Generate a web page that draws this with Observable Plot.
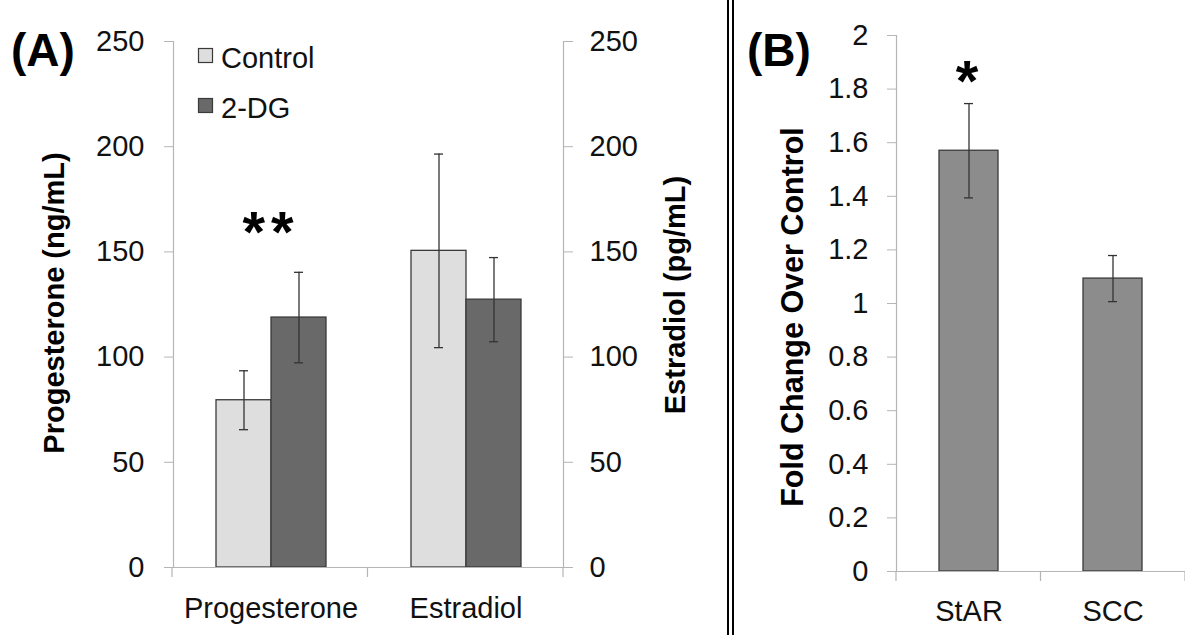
<!DOCTYPE html>
<html>
<head>
<meta charset="utf-8">
<script src="https://cdn.jsdelivr.net/npm/d3@7"></script>
<script src="https://cdn.jsdelivr.net/npm/@observablehq/plot@0.6"></script>
<style>
  html, body { margin: 0; padding: 0; background: #fff; }
  #wrap { position: relative; width: 1185px; height: 635px; overflow: hidden; background: #fff; }
  #wrap > svg { position: absolute; top: 0; }
</style>
</head>
<body>
<div id="wrap"></div>
<script>
// ---------------- data ----------------
const hormones = ["Progesterone", "Estradiol"];
const treatments = ["Control", "2-DG"];
const controlMean = [79.5, 150.5];
const controlErr = [14, 46];
const dgMean = [118.8, 127.3];
const dgErr = [21.5, 20];
const sigA = [{hormone: "Progesterone", label: "**", y: 159}];
const yTicksA = [0, 50, 100, 150, 200, 250];

const genes = ["StAR", "SCC"];
const foldMean = [1.57, 1.093];
const foldErr = [0.176, 0.086];
const sigB = [{gene: "StAR", label: "*", y: 1.825}];
const yTicksB = [0, 0.2, 0.4, 0.6, 0.8, 1, 1.2, 1.4, 1.6, 1.8, 2];

// ---------------- styling ----------------
const FONT = "'Liberation Sans', Arial, Helvetica, sans-serif";
const AX = "#b5b5b5";
const EDGE = "#3a3a3a";
const FS = 29;

const dataA = hormones.flatMap((h, i) => [
  {hormone: h, group: "Control", mean: controlMean[i], err: controlErr[i]},
  {hormone: h, group: "2-DG", mean: dgMean[i], err: dgErr[i]}
]);
const dataB = genes.map((g, i) => ({gene: g, mean: foldMean[i], err: foldErr[i]}));

const wrap = document.getElementById("wrap");

// ---------------- panel A ----------------
const chartA = Plot.plot({
  width: 727, height: 635,
  marginLeft: 172, marginRight: 164, marginTop: 41, marginBottom: 68,
  style: {fontFamily: FONT, fontSize: FS + "px", color: "#111", background: "transparent", overflow: "visible"},
  fx: {domain: hormones, padding: 0, label: null},
  x: {domain: treatments, paddingInner: 0, paddingOuter: 0.745, axis: null, label: null},
  y: {domain: [0, 250], label: null},
  color: {domain: treatments, range: ["#dedede", "#696969"]},
  marks: [
    Plot.barY(dataA, {fx: "hormone", x: "group", y: "mean", fill: "group", stroke: EDGE, strokeWidth: 1.3}),
    Plot.ruleY([0], {stroke: AX, strokeWidth: 1.2}),
    Plot.ruleX(dataA, {fx: "hormone", x: "group", y1: d => d.mean - d.err, y2: d => d.mean + d.err, stroke: "#333", strokeWidth: 1.3}),
    Plot.tickY(dataA, {fx: "hormone", x: "group", y: d => d.mean - d.err, stroke: "#333", strokeWidth: 1.3, insetLeft: 23, insetRight: 23}),
    Plot.tickY(dataA, {fx: "hormone", x: "group", y: d => d.mean + d.err, stroke: "#333", strokeWidth: 1.3, insetLeft: 23, insetRight: 23}),
    Plot.text(sigA, {fx: "hormone", y: "y", text: "label", fontSize: 58, fontWeight: "bold", fill: "#000"}),
    Plot.frame({anchor: "left", facetAnchor: "left", stroke: AX, strokeWidth: 1.2}),
    Plot.frame({anchor: "right", facetAnchor: "right", stroke: AX, strokeWidth: 1.2}),
    Plot.axisY({anchor: "left", ticks: yTicksA, tickSize: 9, tickPadding: 20, stroke: AX, fill: "#111", label: null}),
    Plot.axisY({anchor: "right", ticks: yTicksA, tickSize: 9, tickPadding: 17, stroke: AX, fill: "#111", label: null}),
    Plot.axisFx({anchor: "bottom", tickSize: 0, tickPadding: 30, fill: "#111", label: null})
  ]
});
chartA.style.left = "0px";
wrap.appendChild(chartA);

// ---------------- panel B ----------------
const chartB = Plot.plot({
  width: 450, height: 635,
  marginLeft: 161, marginRight: 0, marginTop: 35, marginBottom: 64,
  style: {fontFamily: FONT, fontSize: FS + "px", color: "#111", background: "transparent", overflow: "visible"},
  x: {domain: genes, paddingInner: 0.593, paddingOuter: 0.2965, label: null},
  y: {domain: [0, 2], label: null},
  marks: [
    Plot.barY(dataB, {x: "gene", y: "mean", fill: "#8c8c8c", stroke: EDGE, strokeWidth: 1.3}),
    Plot.ruleY([0], {stroke: AX, strokeWidth: 1.2}),
    Plot.ruleX(dataB, {x: "gene", y1: d => d.mean - d.err, y2: d => d.mean + d.err, stroke: "#333", strokeWidth: 1.3}),
    Plot.tickY(dataB, {x: "gene", y: d => d.mean - d.err, stroke: "#333", strokeWidth: 1.3, insetLeft: 25, insetRight: 25}),
    Plot.tickY(dataB, {x: "gene", y: d => d.mean + d.err, stroke: "#333", strokeWidth: 1.3, insetLeft: 25, insetRight: 25}),
    Plot.text(sigB, {x: "gene", y: "y", text: "label", dx: -2, fontSize: 58, fontWeight: "bold", fill: "#000"}),
    Plot.frame({anchor: "left", stroke: AX, strokeWidth: 1.2}),
    Plot.axisY({anchor: "left", ticks: yTicksB, tickSize: 9, tickPadding: 19, stroke: AX, fill: "#111", label: null,
                tickFormat: d => String(+d.toFixed(1))}),
    Plot.axisX({anchor: "bottom", tickSize: 0, tickPadding: 29, fill: "#111", label: null})
  ]
});
chartB.style.left = "735px";
wrap.appendChild(chartB);

// category-boundary tick marks below the baseline, from each chart's own scales
function catTicks(chart, name, len) {
  const s = chart.scale(name), y = chart.scale("y");
  const [r0, r1] = s.range;
  const n = s.domain.length;
  const base = y.apply(0);
  const g = d3.select(chart).append("g").attr("stroke", AX).attr("stroke-width", 1.2);
  for (let i = 0; i <= n; i++) {
    const x = r0 + (r1 - r0) * i / n;
    g.append("line").attr("x1", x).attr("x2", x).attr("y1", base).attr("y2", base + len);
  }
}
catTicks(chartA, "fx", 10);
catTicks(chartB, "x", 10);

// spread the two asterisks slightly
d3.select(chartA).selectAll("text").filter(function() { return this.textContent === "**"; })
  .style("letter-spacing", "6px").attr("dx", 0);

// ---------------- overlay: panel letters, axis titles, legend, divider ----------------
const ov = d3.select(wrap).append("svg")
  .attr("width", 1185).attr("height", 635)
  .style("left", "0px").style("pointer-events", "none")
  .style("font-family", FONT);

ov.append("text").attr("x", 11).attr("y", 66).attr("font-size", 46).attr("font-weight", "bold").text("(A)");
ov.append("text").attr("x", 747).attr("y", 66).attr("font-size", 46).attr("font-weight", "bold").text("(B)");

function vtitle(x, y, s, fs) {
  ov.append("text").attr("transform", `translate(${x},${y}) rotate(-90)`)
    .attr("text-anchor", "middle").attr("font-size", fs).attr("font-weight", "bold").text(s);
}
vtitle(64, 303, "Progesterone (ng/mL)", FS);
vtitle(685, 295, "Estradiol (pg/mL)", FS);
vtitle(803, 317, "Fold Change Over Control", 30.5);

const legColors = ["#dedede", "#696969"];
treatments.forEach((t, i) => {
  ov.append("rect").attr("x", 198.5).attr("y", 48.5 + i * 50).attr("width", 14).attr("height", 14)
    .attr("fill", legColors[i]).attr("stroke", EDGE).attr("stroke-width", 1.2);
  ov.append("text").attr("x", 221).attr("y", 68 + i * 50).attr("font-size", FS).attr("fill", "#111").text(t);
});

ov.append("rect").attr("x", 727).attr("y", 0).attr("width", 2).attr("height", 635).attr("fill", "#000");
ov.append("rect").attr("x", 732).attr("y", 0).attr("width", 2).attr("height", 635).attr("fill", "#000");
</script>
</body>
</html>
